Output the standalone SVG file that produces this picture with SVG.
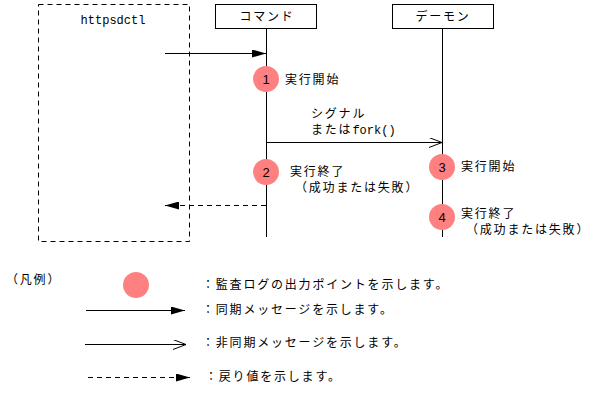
<svg xmlns="http://www.w3.org/2000/svg" width="597" height="401" viewBox="0 0 597 401">
<style>
text{font-family:"Noto Sans CJK JP","Noto Sans",sans-serif;font-size:12px;letter-spacing:1.8px;fill:#000}
.mono{font-family:"Liberation Mono",monospace;font-size:12px;letter-spacing:0}
.num{font-family:"Liberation Sans",sans-serif;font-size:13px;letter-spacing:0;text-anchor:middle}
.box{fill:#fff;stroke:#000;stroke-width:1}
.line{stroke:#000;stroke-width:1;fill:none}
.dash{stroke:#000;stroke-width:1;fill:none;stroke-dasharray:5,4}
.pt{fill:#FF8080}
</style>
<defs>
<marker id="filled" markerWidth="14" markerHeight="8" refX="14" refY="4" orient="auto" markerUnits="userSpaceOnUse">
<path d="M0,0 L14,4 L0,8 Z" fill="#000"/>
</marker>
<marker id="open" markerWidth="14" markerHeight="10" refX="13" refY="5" orient="auto" markerUnits="userSpaceOnUse">
<path d="M0,0 L13,5 L0,10" fill="none" stroke="#000"/>
</marker>
</defs>
<g id="httpsdctl">
<rect x="38.5" y="4.5" width="151" height="237" class="dash"/>
<text class="mono" x="113" y="24" text-anchor="middle">httpsdctl</text>
</g>
<g id="command">
<rect x="215.5" y="4.5" width="101" height="24" class="box"/>
<text x="267" y="21" text-anchor="middle">コマンド</text>
<line x1="266.5" y1="28" x2="266.5" y2="237" class="line"/>
</g>
<g id="daemon">
<rect x="392.5" y="4.5" width="101" height="24" class="box"/>
<text x="443" y="21" text-anchor="middle">デーモン</text>
<line x1="442.5" y1="28" x2="442.5" y2="237" class="line"/>
</g>
<g id="connectors">
<line x1="165" y1="53.5" x2="266" y2="53.5" class="line" marker-end="url(#filled)"/>
<line x1="266" y1="142.5" x2="442" y2="142.5" class="line" marker-end="url(#open)"/>
<line x1="266" y1="205.5" x2="165" y2="205.5" class="dash" marker-end="url(#filled)"/>
<text x="311" y="118">シグナル</text>
<text x="311" y="134">または<tspan style="font-family:'Liberation Mono',monospace;letter-spacing:0">fork()</tspan></text>
</g>
<g id="p1">
<circle cx="266" cy="79" r="13" class="pt"/>
<text class="num" x="266" y="84">1</text>
<text x="285" y="84">実行開始</text>
</g>
<g id="p2">
<circle cx="266" cy="172" r="13" class="pt"/>
<text class="num" x="266" y="177">2</text>
<text x="290" y="176">実行終了</text>
<text x="295" y="192">（成功または失敗）</text>
</g>
<g id="p3">
<circle cx="442" cy="167" r="13" class="pt"/>
<text class="num" x="442" y="172">3</text>
<text x="461" y="171">実行開始</text>
</g>
<g id="p4">
<circle cx="442" cy="217" r="13" class="pt"/>
<text class="num" x="442" y="222">4</text>
<text x="461" y="218">実行終了</text>
<text x="466" y="234">（成功または失敗）</text>
</g>
<g id="legend">
<text x="6" y="284">（凡例）</text>
<circle cx="136" cy="285" r="13" class="pt"/>
<text x="202" y="289">：監査ログの出力ポイントを示します。</text>
<line x1="86" y1="310.5" x2="185" y2="310.5" class="line" marker-end="url(#filled)"/>
<text x="202" y="314">：同期メッセージを示します。</text>
<line x1="85" y1="344.5" x2="186" y2="344.5" class="line" marker-end="url(#open)"/>
<text x="202" y="347">：非同期メッセージを示します。</text>
<line x1="88" y1="377.5" x2="190" y2="377.5" class="dash" marker-end="url(#filled)"/>
<text x="205" y="381">：戻り値を示します。</text>
</g>
</svg>
